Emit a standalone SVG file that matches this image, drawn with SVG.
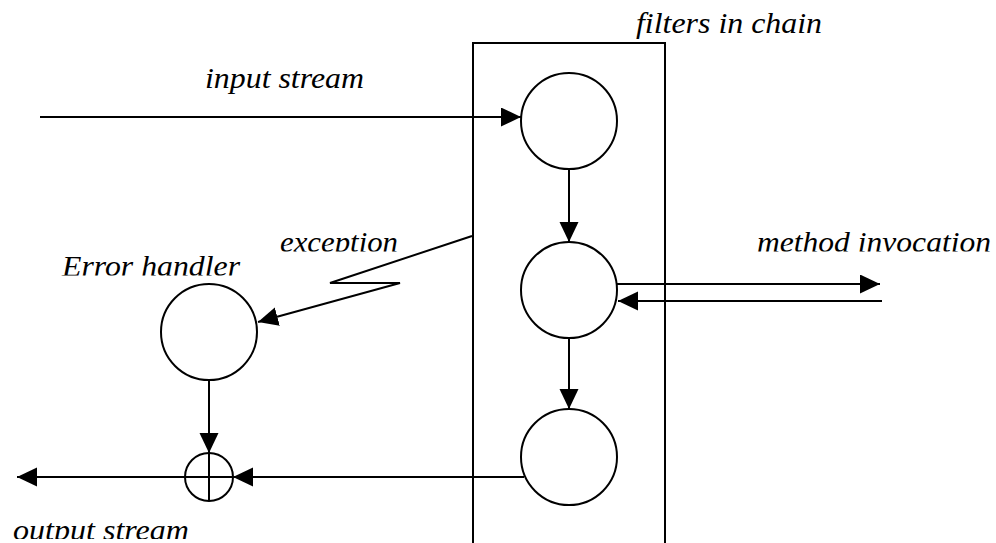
<svg xmlns="http://www.w3.org/2000/svg" width="996" height="543" viewBox="0 0 996 543">
  <style>
    .node { fill: #ffffff; stroke: #000000; stroke-width: 2; }
    .edge { fill: none; stroke: #000000; stroke-width: 2; }
    .label { font-family: 'Liberation Serif', 'Times New Roman', serif; font-style: italic; font-size: 30px; fill: #000000; }
  </style>
  <defs>
    <marker id="arrow" markerUnits="userSpaceOnUse" markerWidth="21" markerHeight="20" refX="20" refY="9.5" orient="auto">
      <path d="M0,0 L20,9.5 L0,19 Z" fill="#000000"/>
    </marker>
    <!-- label boxes cut the descenders, as in the drawing -->
    <clipPath id="clipException"><rect x="270" y="220" width="140" height="31.5"/></clipPath>
    <clipPath id="clipError"><rect x="50" y="245" width="200" height="30.5"/></clipPath>
    <clipPath id="clipMethod"><rect x="740" y="220" width="256" height="31.5"/></clipPath>
    <clipPath id="clipOutput"><rect x="0" y="505" width="200" height="34"/></clipPath>
  </defs>

  <rect width="996" height="543" fill="#ffffff"/>

  <!-- container of the filter chain -->
  <g id="filter-chain">
    <rect x="473" y="43" width="192" height="520" fill="none" stroke="#000000" stroke-width="2"/>
    <text class="label" x="636" y="33" textLength="186" lengthAdjust="spacingAndGlyphs">filters in chain</text>
  </g>

  <!-- connectors -->
  <g id="connectors">
    <line class="edge" x1="40" y1="117" x2="521" y2="117" marker-end="url(#arrow)"/>
    <line class="edge" x1="569" y1="169" x2="569" y2="242" marker-end="url(#arrow)"/>
    <line class="edge" x1="569" y1="338" x2="569" y2="409" marker-end="url(#arrow)"/>
    <line class="edge" x1="617" y1="284" x2="880" y2="284" marker-end="url(#arrow)"/>
    <line class="edge" x1="882" y1="301" x2="618" y2="301" marker-end="url(#arrow)"/>
    <polyline class="edge" points="472,236 330,283 400,283 258,322" marker-end="url(#arrow)"/>
    <line class="edge" x1="209" y1="380" x2="209" y2="453" marker-end="url(#arrow)"/>
    <line class="edge" x1="524" y1="477" x2="233" y2="477" marker-end="url(#arrow)"/>
    <line class="edge" x1="185" y1="477" x2="17" y2="477" marker-end="url(#arrow)"/>
  </g>

  <g id="filter-1">
    <circle class="node" cx="569" cy="121" r="48"/>
  </g>
  <g id="filter-2">
    <circle class="node" cx="569" cy="290" r="48"/>
  </g>
  <g id="filter-3">
    <circle class="node" cx="569" cy="457" r="48"/>
  </g>

  <g id="error-handler">
    <circle class="node" cx="209" cy="332" r="48"/>
    <text class="label" x="62" y="276" textLength="178" lengthAdjust="spacingAndGlyphs" clip-path="url(#clipError)">Error handler</text>
  </g>

  <g id="merge">
    <circle class="node" cx="209" cy="477" r="24"/>
    <line class="edge" x1="185" y1="477" x2="233" y2="477"/>
    <line class="edge" x1="209" y1="453" x2="209" y2="501"/>
  </g>

  <!-- connector labels -->
  <g id="labels">
    <text class="label" x="205" y="88" textLength="159" lengthAdjust="spacingAndGlyphs">input stream</text>
    <text class="label" x="280" y="252" textLength="118" lengthAdjust="spacingAndGlyphs" clip-path="url(#clipException)">exception</text>
    <text class="label" x="757" y="252" textLength="234" lengthAdjust="spacingAndGlyphs" clip-path="url(#clipMethod)">method invocation</text>
    <text class="label" x="13" y="540" textLength="176" lengthAdjust="spacingAndGlyphs" clip-path="url(#clipOutput)">output stream</text>
  </g>
</svg>
